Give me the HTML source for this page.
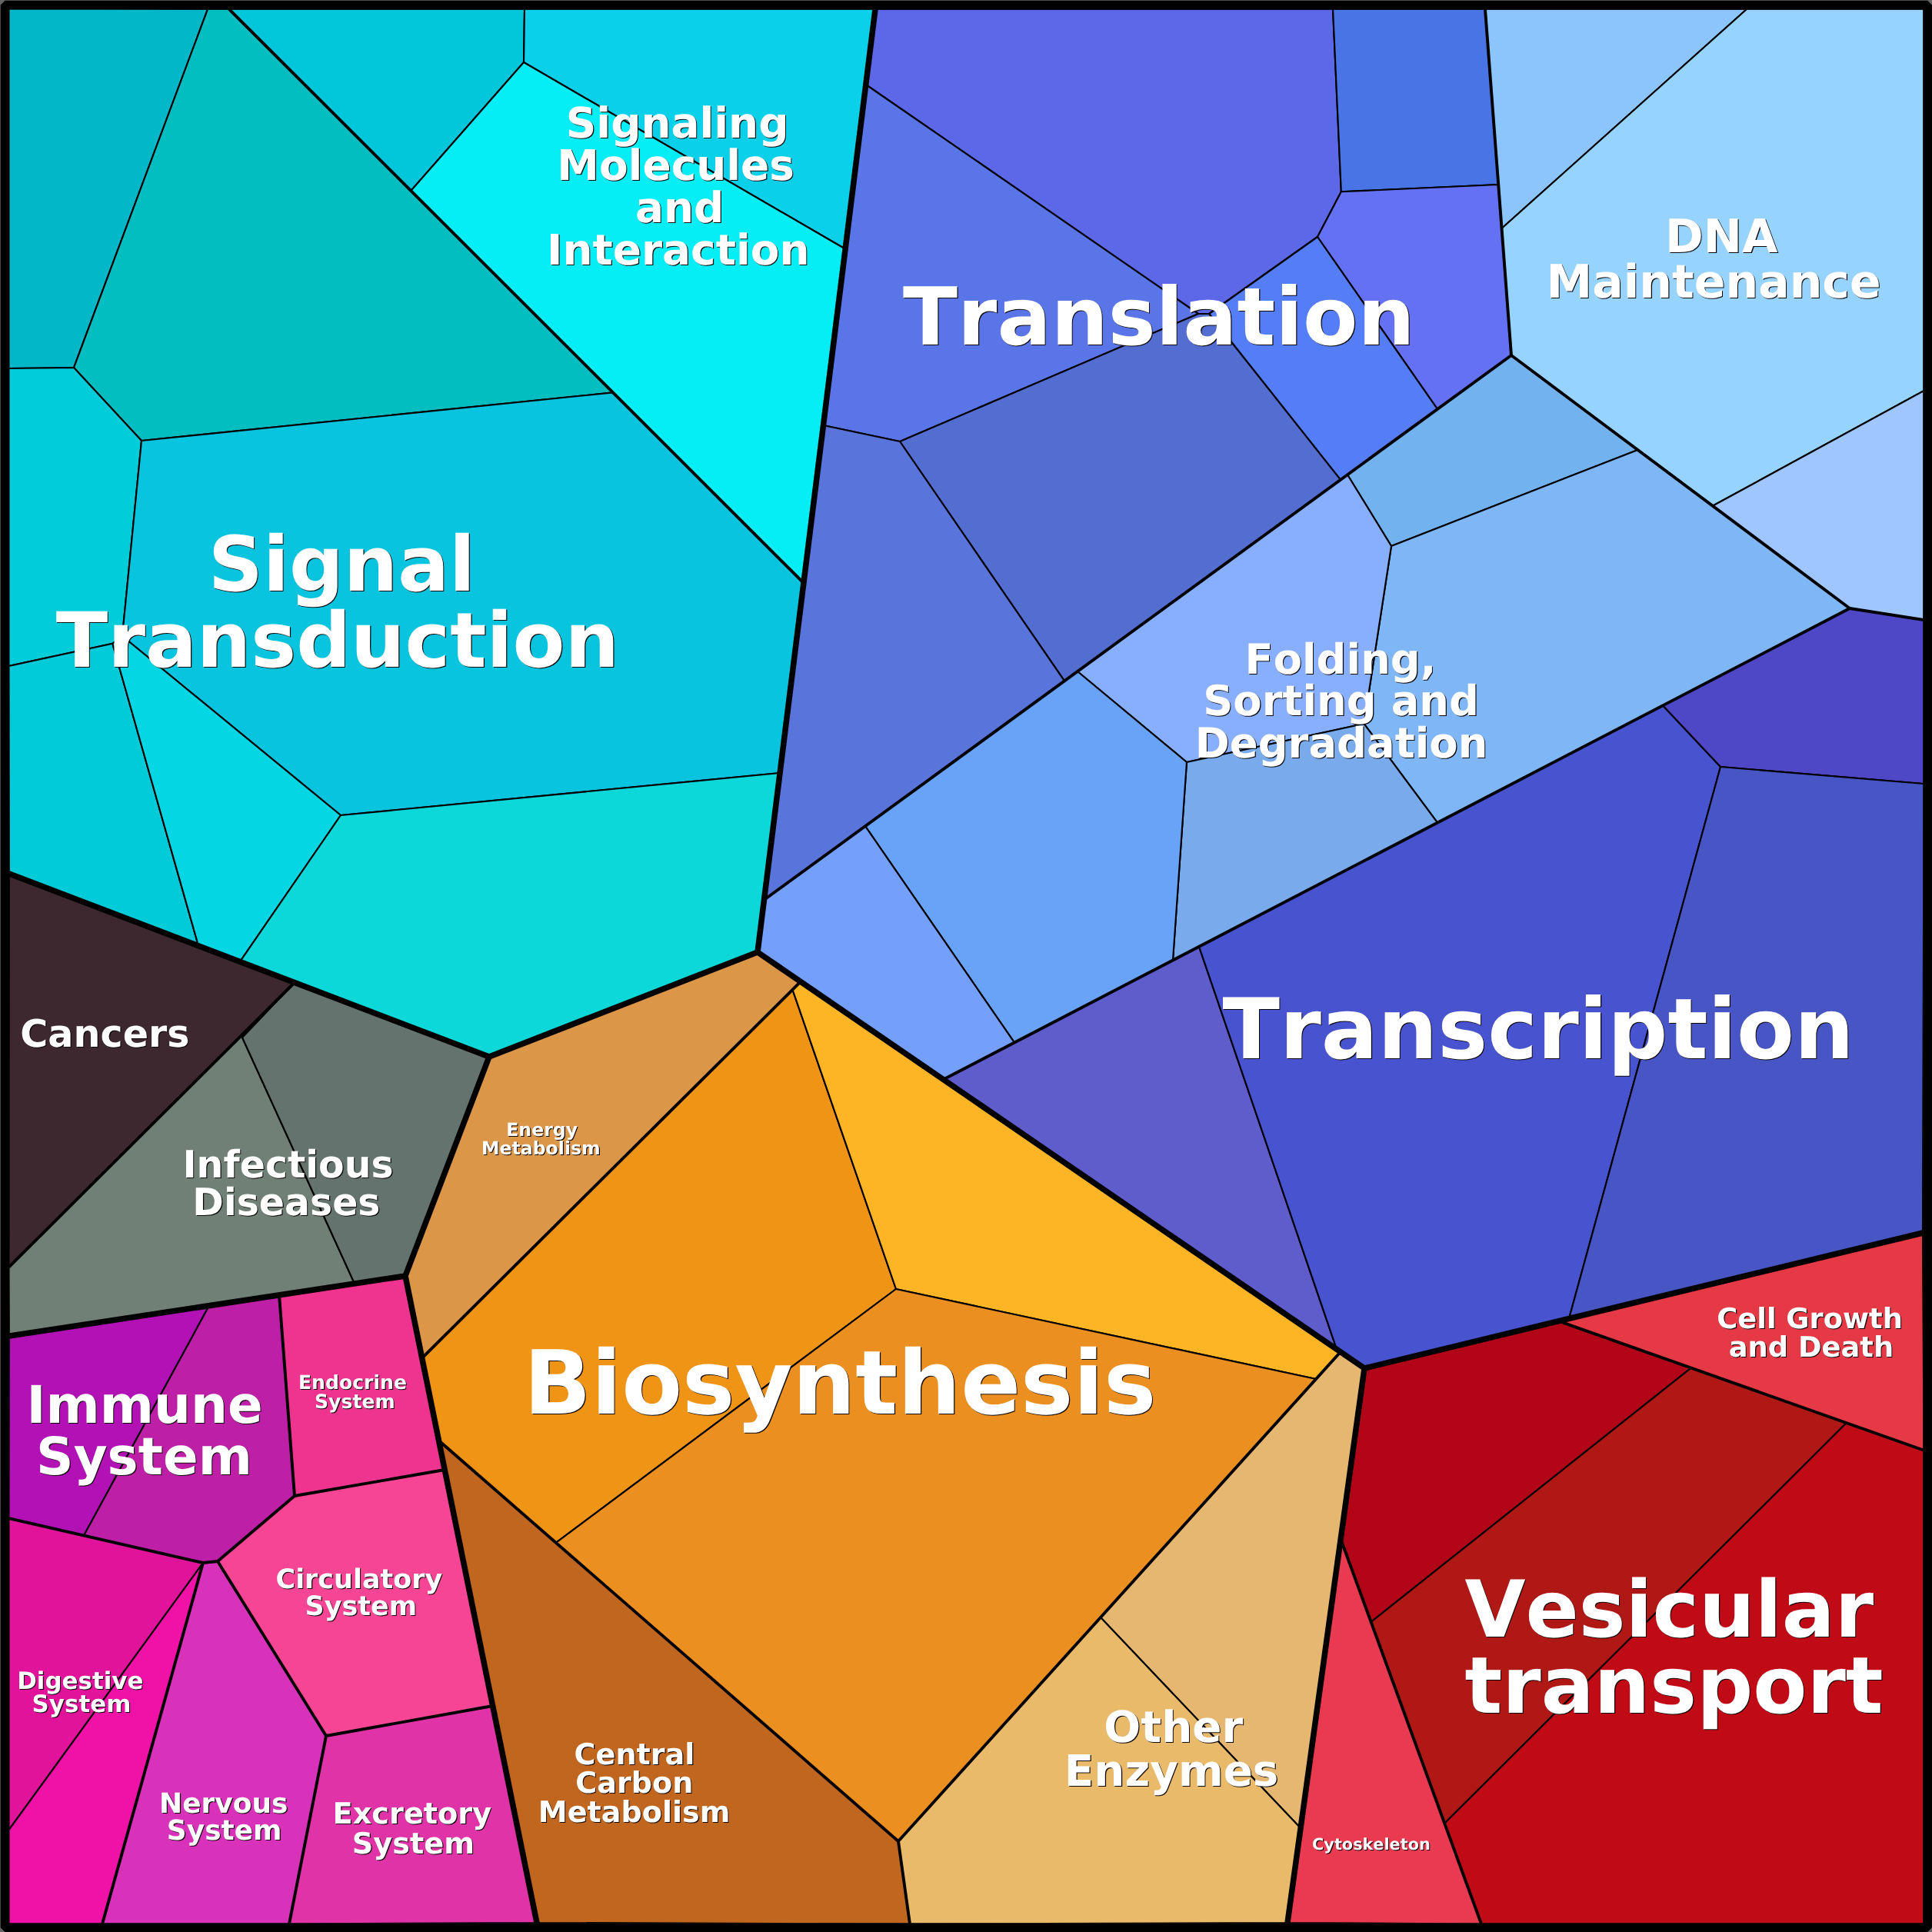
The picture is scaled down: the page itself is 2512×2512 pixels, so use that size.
<!DOCTYPE html>
<html lang="en"><head><meta charset="utf-8"><title>Proteomap</title>
<style>html,body{margin:0;padding:0;background:#666;}svg{display:block;will-change:transform;}
.lbl text{font-family:"DejaVu Sans","Liberation Sans",sans-serif;font-weight:bold;text-anchor:start;font-kerning:none;font-variant-ligatures:none;text-rendering:geometricPrecision;}
</style></head><body>
<svg width="2512" height="2512" viewBox="0 0 2512 2512">
<rect x="0" y="0" width="2512" height="2512" fill="#666"/>
<clipPath id="cp"><rect x="12.3" y="12.3" width="2488.1" height="2488.1"/></clipPath>
<rect x="12" y="12" width="2488.6" height="2488.6" fill="#000"/>
<g clip-path="url(#cp)">
<g stroke="#000" stroke-width="2.15" stroke-linejoin="round">
<polygon fill="#02c7da" points="298.0,12.0 682.0,12.0 681.0,81.0 534.3,248.0"/>
<polygon fill="#0bd0ea" points="682.0,12.0 1138.0,12.0 1099.1,323.8 681.0,81.0"/>
<polygon fill="#05edf5" points="681.0,81.0 1099.1,323.8 1044.9,758.0 534.3,248.0"/>
<polygon fill="#01b7c8" points="11.0,11.0 270.0,12.0 96.0,478.0 11.0,479.0"/>
<polygon fill="#03bec0" points="270.0,12.0 298.0,12.0 797.0,510.4 184.0,573.0 96.0,478.0"/>
<polygon fill="#01ccda" points="11.0,479.0 96.0,478.0 184.0,573.0 159.0,827.0 146.3,836.8 11.0,866.0"/>
<polygon fill="#09c4df" points="184.0,573.0 797.0,510.4 1044.9,758.0 1014.1,1005.0 443.0,1060.0 159.0,827.0"/>
<polygon fill="#01cbd9" points="11.0,866.0 146.3,836.8 258.0,1229.8 12.0,1136.0"/>
<polygon fill="#05d6e3" points="146.3,836.8 159.0,827.0 443.0,1060.0 312.0,1250.4 258.0,1229.8"/>
<polygon fill="#0dd8d9" points="443.0,1060.0 1014.1,1005.0 985.0,1238.0 636.0,1374.0 312.0,1250.4"/>
<polygon fill="#5d68e9" points="1138.0,12.0 1733.0,12.0 1743.8,249.3 1713.0,308.0 1572.0,408.0 1558.0,408.0 1125.8,110.0"/>
<polygon fill="#4874e6" points="1733.0,12.0 1931.0,12.0 1948.2,240.0 1743.8,249.3"/>
<polygon fill="#6471f2" points="1743.8,249.3 1948.2,240.0 1965.0,462.0 1869.0,532.0 1713.0,308.0"/>
<polygon fill="#557df5" points="1713.0,308.0 1869.0,532.0 1743.0,623.8 1572.0,408.0"/>
<polygon fill="#5a75e7" points="1125.8,110.0 1558.0,408.0 1170.0,574.0 1070.5,553.0"/>
<polygon fill="#536dd1" points="1558.0,408.0 1572.0,408.0 1743.0,623.8 1384.0,885.4 1170.0,574.0"/>
<polygon fill="#5974db" points="1070.5,553.0 1170.0,574.0 1384.0,885.4 993.5,1170.0"/>
<polygon fill="#8cc4fc" points="1931.0,12.0 2271.0,12.0 1952.5,297.0"/>
<polygon fill="#96d3ff" points="2271.0,12.0 2501.5,11.0 2501.5,508.0 2226.8,657.8 1965.0,462.0 1952.5,297.0"/>
<polygon fill="#a0c6ff" points="2501.5,508.0 2501.5,806.0 2405.0,791.0 2226.8,657.8"/>
<polygon fill="#72b2ee" points="1965.0,462.0 2129.4,584.9 1809.0,710.0 1752.0,617.2"/>
<polygon fill="#7eb6f6" points="2129.4,584.9 2405.0,791.0 1869.0,1069.7 1773.5,941.0 1809.0,710.0"/>
<polygon fill="#88aefe" points="1752.0,617.2 1809.0,710.0 1773.5,941.0 1543.0,991.0 1401.0,873.0"/>
<polygon fill="#78aaec" points="1773.5,941.0 1869.0,1069.7 1525.0,1248.5 1543.0,991.0"/>
<polygon fill="#68a3f8" points="1401.0,873.0 1543.0,991.0 1525.0,1248.5 1319.0,1355.6 1125.0,1074.2"/>
<polygon fill="#74a0fc" points="1125.0,1074.2 1319.0,1355.6 1226.6,1403.6 985.0,1238.0 993.5,1170.0"/>
<polygon fill="#5f5ccb" points="1226.6,1403.6 1559.0,1230.8 1738.0,1754.3"/>
<polygon fill="#4853cf" points="1559.0,1230.8 2162.0,917.3 2237.0,997.0 2040.0,1714.5 1774.0,1779.0 1738.0,1754.3"/>
<polygon fill="#4e48c7" points="2162.0,917.3 2405.0,791.0 2501.5,806.0 2501.5,1019.0 2237.0,997.0"/>
<polygon fill="#4855c4" points="2237.0,997.0 2501.5,1019.0 2500.0,1603.0 2040.0,1714.5"/>
<polygon fill="#3d2830" points="12.0,1136.0 383.0,1277.5 11.0,1648.0"/>
<polygon fill="#708076" points="383.0,1277.5 315.0,1349.0 461.0,1669.0 12.0,1737.0 11.0,1648.0"/>
<polygon fill="#64736e" points="383.0,1277.5 636.0,1374.0 527.0,1659.0 461.0,1669.0 315.0,1349.0"/>
<polygon fill="#b211b5" points="12.0,1737.0 272.0,1697.6 109.0,1996.5 11.0,1974.0"/>
<polygon fill="#bd1fa6" points="272.0,1697.6 363.0,1683.8 383.0,1945.0 283.0,2030.0 264.0,2032.0 109.0,1996.5"/>
<polygon fill="#ef3490" points="363.0,1683.8 527.0,1659.0 578.2,1911.0 383.0,1945.0"/>
<polygon fill="#f74596" points="383.0,1945.0 578.2,1911.0 640.7,2218.0 424.0,2257.0 283.0,2030.0"/>
<polygon fill="#e0139a" points="11.0,1974.0 264.0,2032.0 11.0,2380.0"/>
<polygon fill="#f011a6" points="264.0,2032.0 133.0,2501.5 11.0,2501.5 11.0,2380.0"/>
<polygon fill="#d932ba" points="264.0,2032.0 283.0,2030.0 424.0,2257.0 376.0,2501.5 133.0,2501.5"/>
<polygon fill="#e033a8" points="424.0,2257.0 640.7,2218.0 698.0,2500.0 376.0,2501.5"/>
<polygon fill="#db9648" points="636.0,1374.0 985.0,1238.0 1040.9,1276.4 548.7,1765.9 527.0,1659.0"/>
<polygon fill="#ef9415" points="1030.5,1286.8 1165.0,1676.0 722.8,2005.8 570.5,1873.0 548.7,1765.9"/>
<polygon fill="#fdb525" points="1040.9,1276.4 1743.0,1757.7 1711.1,1793.0 1165.0,1676.0 1030.5,1286.8"/>
<polygon fill="#eb9020" points="1165.0,1676.0 1711.1,1793.0 1168.0,2394.0 722.8,2005.8"/>
<polygon fill="#c0661e" points="570.5,1873.0 1168.0,2394.0 1183.0,2501.5 698.0,2500.0"/>
<polygon fill="#e6b770" points="1743.0,1757.7 1774.0,1779.0 1691.1,2377.0 1431.0,2103.0"/>
<polygon fill="#e9ba69" points="1431.0,2103.0 1691.1,2377.0 1674.0,2500.0 1183.0,2501.5 1168.0,2394.0"/>
<polygon fill="#e63946" points="2026.7,1717.7 2500.0,1603.0 2501.5,1885.7"/>
<polygon fill="#ea3a52" points="1743.2,2001.0 1926.0,2501.5 1674.0,2500.0"/>
<polygon fill="#b30518" points="1774.0,1779.0 2026.7,1717.7 2198.7,1778.6 1782.6,2108.8 1743.2,2001.0"/>
<polygon fill="#b01816" points="2198.7,1778.6 2400.9,1850.1 1878.2,2370.7 1782.6,2108.8"/>
<polygon fill="#c00a16" points="2400.9,1850.1 2501.5,1885.7 2501.5,2501.5 1926.0,2501.5 1878.2,2370.7"/>
</g>
<g fill="none" stroke="#000" stroke-width="3.90" stroke-linejoin="round" stroke-linecap="round">
<polyline points="298.0,12.0 1044.9,758.0"/>
<polyline points="1931.0,12.0 1965.0,462.0"/>
<polyline points="1965.0,462.0 993.5,1170.0"/>
<polyline points="1965.0,462.0 2405.0,791.0"/>
<polyline points="2405.0,791.0 1226.6,1403.6"/>
<polyline points="2405.0,791.0 2501.5,806.0"/>
<polyline points="383.0,1277.5 11.0,1648.0"/>
<polyline points="363.0,1683.8 383.0,1945.0"/>
<polyline points="383.0,1945.0 578.2,1911.0"/>
<polyline points="383.0,1945.0 283.0,2030.0 264.0,2032.0 11.0,1974.0"/>
<polyline points="283.0,2030.0 424.0,2257.0 640.7,2218.0"/>
<polyline points="264.0,2032.0 133.0,2501.5"/>
<polyline points="424.0,2257.0 376.0,2501.5"/>
<polyline points="1040.9,1276.4 548.7,1765.9"/>
<polyline points="1743.0,1757.7 1168.0,2394.0"/>
<polyline points="570.5,1873.0 1168.0,2394.0"/>
<polyline points="1168.0,2394.0 1183.0,2501.5"/>
<polyline points="2026.7,1717.7 2501.5,1885.7"/>
<polyline points="1743.2,2001.0 1926.0,2501.5"/>
</g>
<g fill="none" stroke="#000" stroke-width="7.50" stroke-linejoin="round" stroke-linecap="round">
<polyline points="1138.0,12.0 985.0,1238.0 636.0,1374.0 12.0,1136.0"/>
<polyline points="636.0,1374.0 527.0,1659.0 12.0,1737.0"/>
<polyline points="527.0,1659.0 698.0,2500.0"/>
<polyline points="985.0,1238.0 1774.0,1779.0 2500.0,1603.0"/>
<polyline points="1774.0,1779.0 1674.0,2500.0"/>
</g>
</g>
<rect x="6.5" y="6.5" width="2499.7" height="2499.7" fill="none" stroke="#000" stroke-width="11.6" stroke-linejoin="bevel"/>
<g class="lbl" fill="#0a0505" transform="translate(1.1,1.1)" aria-hidden="true">
<text x="735.8" y="179.3" font-size="54.88">Signaling</text>
<text x="724.3" y="234.0" font-size="54.88">Molecules</text>
<text x="826.0" y="288.8" font-size="54.88">and</text>
<text x="711.1" y="343.6" font-size="54.88">Interaction</text>
<text x="1174.1" y="447.7" font-size="104.08">Translation</text>
<text x="2165.0" y="328.0" font-size="60.02">DNA</text>
<text x="2010.5" y="387.3" font-size="60.02">Maintenance</text>
<text x="270.7" y="768.2" font-size="99.00">Signal</text>
<text x="72.7" y="867.3" font-size="99.00">Transduction</text>
<text x="1618.5" y="876.2" font-size="54.37">Folding,</text>
<text x="1564.2" y="930.4" font-size="54.37">Sorting and</text>
<text x="1553.7" y="984.5" font-size="54.37">Degradation</text>
<text x="1589.5" y="1375.9" font-size="109.20">Transcription</text>
<text x="26.3" y="1361.0" font-size="49.17">Cancers</text>
<text x="237.4" y="1531.2" font-size="48.94">Infectious</text>
<text x="250.3" y="1580.3" font-size="48.94">Diseases</text>
<text x="658.2" y="1477.0" font-size="23.63">Energy</text>
<text x="625.9" y="1501.2" font-size="23.63">Metabolism</text>
<text x="34.4" y="1850.2" font-size="67.41">Immune</text>
<text x="47.1" y="1916.9" font-size="67.41">System</text>
<text x="387.9" y="1805.6" font-size="25.13">Endocrine</text>
<text x="409.0" y="1831.3" font-size="25.13">System</text>
<text x="358.5" y="2064.9" font-size="34.95">Circulatory</text>
<text x="396.6" y="2099.9" font-size="34.95">System</text>
<text x="22.2" y="2195.8" font-size="30.93">Digestive</text>
<text x="41.6" y="2225.7" font-size="30.93">System</text>
<text x="207.1" y="2356.6" font-size="35.96">Nervous</text>
<text x="216.8" y="2392.2" font-size="35.96">System</text>
<text x="432.6" y="2371.4" font-size="38.24">Excretory</text>
<text x="457.8" y="2409.5" font-size="38.24">System</text>
<text x="681.1" y="1838.0" font-size="114.97">Biosynthesis</text>
<text x="746.6" y="2293.8" font-size="38.13">Central</text>
<text x="748.2" y="2330.9" font-size="38.13">Carbon</text>
<text x="699.7" y="2368.5" font-size="38.13">Metabolism</text>
<text x="1435.3" y="2265.2" font-size="56.35">Other</text>
<text x="1383.8" y="2321.6" font-size="56.35">Enzymes</text>
<text x="1706.1" y="2405.2" font-size="20.81">Cytoskeleton</text>
<text x="2232.3" y="1727.3" font-size="36.84">Cell Growth</text>
<text x="2247.7" y="1764.3" font-size="36.84">and Death</text>
<text x="1904.4" y="2128.0" font-size="102.15">Vesicular</text>
<text x="1904.5" y="2227.2" font-size="102.15">transport</text>
</g>
<g class="lbl" fill="#fff">
<text x="735.8" y="179.3" font-size="54.88">Signaling</text>
<text x="724.3" y="234.0" font-size="54.88">Molecules</text>
<text x="826.0" y="288.8" font-size="54.88">and</text>
<text x="711.1" y="343.6" font-size="54.88">Interaction</text>
<text x="1174.1" y="447.7" font-size="104.08">Translation</text>
<text x="2165.0" y="328.0" font-size="60.02">DNA</text>
<text x="2010.5" y="387.3" font-size="60.02">Maintenance</text>
<text x="270.7" y="768.2" font-size="99.00">Signal</text>
<text x="72.7" y="867.3" font-size="99.00">Transduction</text>
<text x="1618.5" y="876.2" font-size="54.37">Folding,</text>
<text x="1564.2" y="930.4" font-size="54.37">Sorting and</text>
<text x="1553.7" y="984.5" font-size="54.37">Degradation</text>
<text x="1589.5" y="1375.9" font-size="109.20">Transcription</text>
<text x="26.3" y="1361.0" font-size="49.17">Cancers</text>
<text x="237.4" y="1531.2" font-size="48.94">Infectious</text>
<text x="250.3" y="1580.3" font-size="48.94">Diseases</text>
<text x="658.2" y="1477.0" font-size="23.63">Energy</text>
<text x="625.9" y="1501.2" font-size="23.63">Metabolism</text>
<text x="34.4" y="1850.2" font-size="67.41">Immune</text>
<text x="47.1" y="1916.9" font-size="67.41">System</text>
<text x="387.9" y="1805.6" font-size="25.13">Endocrine</text>
<text x="409.0" y="1831.3" font-size="25.13">System</text>
<text x="358.5" y="2064.9" font-size="34.95">Circulatory</text>
<text x="396.6" y="2099.9" font-size="34.95">System</text>
<text x="22.2" y="2195.8" font-size="30.93">Digestive</text>
<text x="41.6" y="2225.7" font-size="30.93">System</text>
<text x="207.1" y="2356.6" font-size="35.96">Nervous</text>
<text x="216.8" y="2392.2" font-size="35.96">System</text>
<text x="432.6" y="2371.4" font-size="38.24">Excretory</text>
<text x="457.8" y="2409.5" font-size="38.24">System</text>
<text x="681.1" y="1838.0" font-size="114.97">Biosynthesis</text>
<text x="746.6" y="2293.8" font-size="38.13">Central</text>
<text x="748.2" y="2330.9" font-size="38.13">Carbon</text>
<text x="699.7" y="2368.5" font-size="38.13">Metabolism</text>
<text x="1435.3" y="2265.2" font-size="56.35">Other</text>
<text x="1383.8" y="2321.6" font-size="56.35">Enzymes</text>
<text x="1706.1" y="2405.2" font-size="20.81">Cytoskeleton</text>
<text x="2232.3" y="1727.3" font-size="36.84">Cell Growth</text>
<text x="2247.7" y="1764.3" font-size="36.84">and Death</text>
<text x="1904.4" y="2128.0" font-size="102.15">Vesicular</text>
<text x="1904.5" y="2227.2" font-size="102.15">transport</text>
</g>
</svg>
</body></html>
